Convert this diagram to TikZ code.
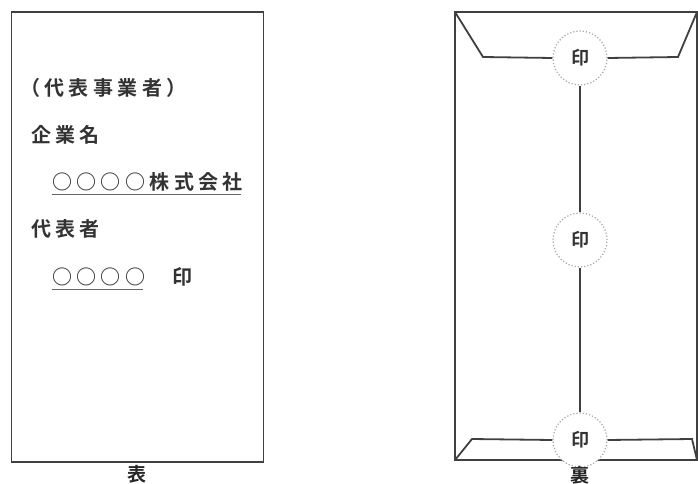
\documentclass[tikz,border=0pt]{standalone}
\usepackage{fontspec}
\usetikzlibrary{calc}
\setmainfont{Noto Sans CJK JP}
\newfontfamily\jpsp[LetterSpace=22]{Noto Sans CJK JP Bold}
\newfontfamily\jpm{Noto Sans CJK JP Bold}
\begin{document}
\begin{tikzpicture}[x=1pt,y=-1pt,
  edge/.style={draw=black!75,line width=1.8pt},
  txt/.style={anchor=west,inner sep=0pt,font=\jpsp\fontsize{20}{20}\selectfont,text=black!80},
  seal/.style={circle,draw=black!35,dotted,line width=1.2pt,fill=white,minimum size=54pt,inner sep=0pt,font=\jpm\fontsize{18}{18}\selectfont,text=black!80},
  captxt/.style={font=\jpm\fontsize{19}{19}\selectfont,inner sep=0pt,text=black!85},
  uline/.style={draw=black!60,line width=1.2pt}]
\useasboundingbox (0,0) rectangle (698,484);
% front
\node[draw=black!75,line width=1.8pt,minimum width=252pt,minimum height=450pt,inner sep=0pt] (front) at (137.5,237) {};
\node[txt] (t1) at (20,88) {（代表事業者）};
\node[txt] (t2) at (31,135) {企業名};
\node[txt] (t3) at (52,182) {○○○○株式会社};
\node[txt] (t4) at (31,229) {代表者};
\node[txt] (t5) at (52,277) {○○○○};
\node[txt] (t6) at (172,277) {印};
\draw[uline] (t3.south west) ++(0,3) coordinate (u1a) -- ($(u1a -| t3.south east)+(-2,0)$);
\draw[uline] (t5.south west) ++(0,3) coordinate (u2a) -- ($(u2a -| t5.south east)+(-3,0)$);
\node[captxt] (c1) at (137,474) {表};
% back
\node[draw=black!75,line width=1.8pt,minimum width=242pt,minimum height=448pt,inner sep=0pt] (back) at (576,236) {};
\coordinate (tl) at (455,12);
\coordinate (tr) at (697,12);
\coordinate (bl) at (455,460);
\coordinate (br) at (697,460);
\coordinate (f1) at (483,57);
\coordinate (f2) at (678,57);
\coordinate (f3) at (472,439);
\coordinate (f4) at (692,439);
\node[seal] (s1) at (580,58) {印};
\node[seal] (s2) at (580,240) {印};
\node[seal] (s3) at (580,440) {印};
\draw[edge] (tl) -- (f1) -- (s1.west);
\draw[edge] (s1.east) -- (f2) -- (tr);
\draw[edge] (bl) -- (f3) -- (s3.west);
\draw[edge] (s3.east) -- (f4) -- (br);
\draw[edge] (s1.south) -- (s2.north);
\draw[edge] (s2.south) -- (s3.north);
\node[captxt] (c2) at (580,475) {裏};
\end{tikzpicture}
\end{document}
